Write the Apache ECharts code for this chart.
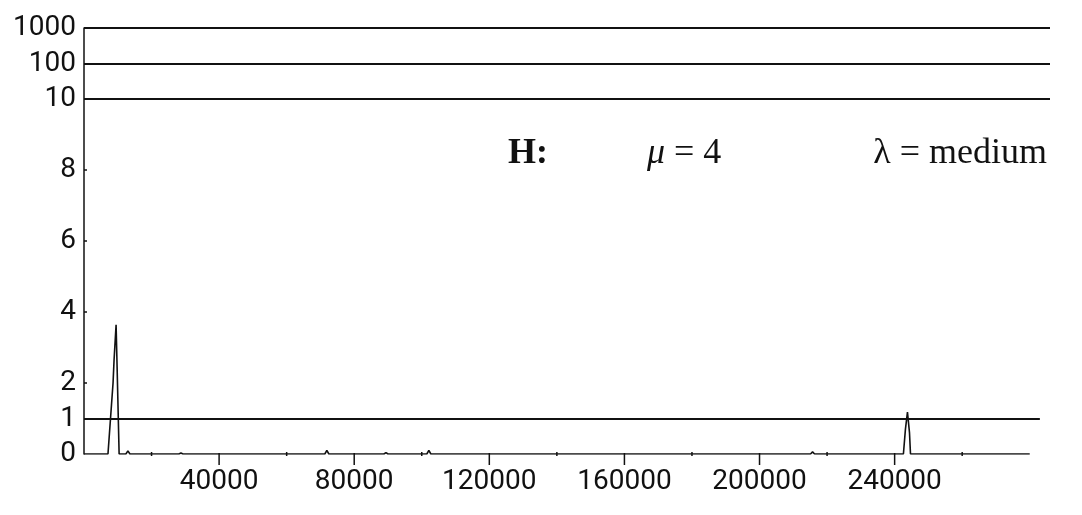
<!DOCTYPE html>
<html>
<head>
<meta charset="utf-8">
<script src="https://cdn.jsdelivr.net/npm/echarts@6/dist/echarts.min.js"></script>
<style>
html,body{margin:0;padding:0;background:#fff;}
#chart{width:1082px;height:515px;}
</style>
</head>
<body>
<div id="chart"></div>
<script>
// ---- data ----
const seriesX = [0, 7100, 8600, 8900, 9500, 9800, 10400, 12400, 13000, 13600, 28100, 28700, 29300,
  71300, 71900, 72500, 88800, 89400, 90000, 101500, 102100, 102700, 215100, 215700, 216300,
  242600, 243200, 243800, 244400, 244700, 280000];
const seriesY = [0, 0, 2.0, 2.65, 3.64, 2.45, 0, 0, 0.09, 0, 0, 0.03, 0,
  0, 0.1, 0, 0, 0.04, 0, 0, 0.1, 0, 0, 0.06, 0,
  0, 0.7, 1.18, 0.6, 0, 0];
const yTickValues = [0, 1, 2, 4, 6, 8, 10, 100, 1000];
const yTickLabels = ['0', '1', '2', '4', '6', '8', '10', '100', '1000'];
const yMarkTicks = [2, 4, 6, 8];
const xTickLabels = [40000, 80000, 120000, 160000, 200000, 240000];
const xMinorTicks = [20000, 60000, 100000, 140000, 180000, 220000, 260000];
const refLevels = [1, 10, 100, 1000];
const refLineEnds = [283000, 286000, 286000, 286000];
const X_MAX = 286000;

// axis transform: linear 0..10, one unit per decade above 10
function t(v) { return v <= 10 ? v : 10 + Math.log10(v / 10); }

const ink = '#111';
const sans = 'Roboto';
const chart = echarts.init(document.getElementById('chart'), null, {renderer: 'canvas'});

// tick marks (and x tick labels) placed through the axis scale (api.coord)
function tickSeries(values, up, down, withLabel) {
  return {
    type: 'custom',
    silent: true,
    clip: false,
    z: 5,
    data: values.map(v => [v, 0]),
    renderItem: function (params, api) {
      const v = api.value(0);
      const p = api.coord([v, api.value(1)]);
      const children = [{
        type: 'line',
        shape: {x1: p[0], y1: p[1] - up, x2: p[0], y2: p[1] + down},
        style: {stroke: ink, lineWidth: 1.5}
      }];
      if (withLabel) {
        children.push({
          type: 'text',
          x: p[0], y: p[1] + 14,
          style: {text: String(v), font: '28px ' + sans, fill: ink, align: 'center', verticalAlign: 'top'}
        });
      }
      return {type: 'group', children: children};
    }
  };
}

const option = {
  backgroundColor: '#fff',
  animation: false,
  grid: {left: 84, right: 32, top: 28, bottom: 61, containLabel: false},
  xAxis: {
    type: 'value', min: 0, max: X_MAX,
    axisLine: {show: false},
    splitLine: {show: false},
    axisTick: {show: false},
    axisLabel: {show: false}
  },
  yAxis: {
    type: 'value', min: 0, max: 12,
    axisLine: {show: true, lineStyle: {color: ink, width: 1.5}},
    splitLine: {show: false},
    axisTick: {show: true, inside: true, length: 3, customValues: yMarkTicks.map(t), lineStyle: {color: ink, width: 1.5}},
    axisLabel: {
      show: true, customValues: yTickValues.map(t), margin: 8,
      fontFamily: sans, fontSize: 28, color: ink,
      padding: [0, 0, 13, 0],
      formatter: function (v) {
        for (let i = 0; i < yTickValues.length; i++) {
          if (Math.abs(t(yTickValues[i]) - v) < 1e-6) return yTickLabels[i];
        }
        return '';
      }
    }
  },
  series: [{
    type: 'line',
    data: seriesX.map((x, i) => [x, t(seriesY[i])]),
    showSymbol: false,
    symbol: 'none',
    lineStyle: {color: ink, width: 1.6},
    silent: true,
    markLine: {
      silent: true,
      symbol: ['none', 'none'],
      label: {show: false},
      lineStyle: {color: ink, width: 1.8, type: 'solid'},
      data: refLevels.map((lv, i) => [
        {coord: [0, t(lv)]},
        {coord: [refLineEnds[i], t(lv)]}
      ])
    }
  },
  tickSeries(xTickLabels, 1, 11, true),
  tickSeries(xMinorTicks, 2, 2, false)
  ],
  graphic: [
    {type: 'text', x: 508, y: 154, silent: true,
      style: {text: 'H:', font: 'bold 36px "Liberation Serif"', fill: ink, verticalAlign: 'middle', align: 'left'}},
    {type: 'text', x: 647, y: 154, silent: true,
      style: {text: '{i|μ} = 4', font: '36px "Liberation Serif"', fill: ink, verticalAlign: 'middle', align: 'left',
        rich: {i: {font: 'italic 36px "Liberation Serif"', fill: ink}}}},
    {type: 'text', x: 1047, y: 154, silent: true,
      style: {text: 'λ = medium', font: '36px "Liberation Serif"', fill: ink, verticalAlign: 'middle', align: 'right'}}
  ]
};
chart.setOption(option);
</script>
</body>
</html>
